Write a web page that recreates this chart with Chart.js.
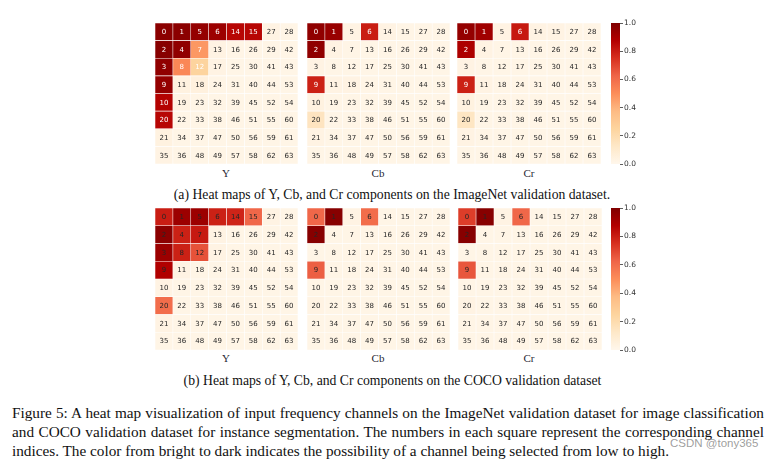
<!DOCTYPE html>
<html>
<head>
<meta charset="utf-8">
<script src="https://cdn.jsdelivr.net/npm/chart.js@4.4.1/dist/chart.umd.min.js"></script>
<style>
  html, body { margin: 0; padding: 0; background: #fff; }
  body { width: 776px; height: 461px; position: relative; overflow: hidden; }
  canvas { position: absolute; }
  .lbl { position: absolute; font-family: "Liberation Serif", serif; font-size: 11px; color: #1f1f33; transform: translate(-50%, -50%); white-space: nowrap; }
  .cap { position: absolute; font-family: "Liberation Serif", serif; font-size: 13.7px; color: #111; transform: translate(-50%, -50%); white-space: nowrap; }
  .line { position: absolute; left: 12px; width: 752px; font-family: "Liberation Serif", serif; font-size: 15.25px; color: #111; white-space: nowrap; line-height: 18px; }
  .just { text-align: justify; text-align-last: justify; white-space: normal; }
  .wm { position: absolute; font-family: "Liberation Sans", sans-serif; font-size: 11.5px; color: rgba(140,140,140,0.85); white-space: nowrap; }
</style>
</head>
<body>
<canvas id="inY" width="143" height="141" style="left:155px;top:23px"></canvas>
<canvas id="inCb" width="143" height="141" style="left:307px;top:23px"></canvas>
<canvas id="inCr" width="144" height="141" style="left:457px;top:23px"></canvas>
<canvas id="cbA" width="40" height="153" style="left:611px;top:17px"></canvas>
<canvas id="coY" width="143" height="142" style="left:155px;top:208px"></canvas>
<canvas id="coCb" width="143" height="142" style="left:307px;top:208px"></canvas>
<canvas id="coCr" width="144" height="142" style="left:458px;top:208px"></canvas>
<canvas id="cbB" width="40" height="154" style="left:611px;top:202px"></canvas>

<div class="lbl" style="left:226px;top:173px">Y</div>
<div class="lbl" style="left:378px;top:173px">Cb</div>
<div class="lbl" style="left:529px;top:173px">Cr</div>
<div class="cap" style="left:392px;top:195px">(a) Heat maps of Y, Cb, and Cr components on the ImageNet validation dataset.</div>
<div class="lbl" style="left:226px;top:358px">Y</div>
<div class="lbl" style="left:378px;top:358px">Cb</div>
<div class="lbl" style="left:529px;top:358px">Cr</div>
<div class="cap" style="left:392.5px;top:381px">(b) Heat maps of Y, Cb, and Cr components on the COCO validation dataset</div>

<div class="line just" style="top:404px">Figure 5: A heat map visualization of input frequency channels on the ImageNet validation dataset for image classification</div>
<div class="line just" style="top:423px">and COCO validation dataset for instance segmentation. The numbers in each square represent the corresponding channel</div>
<div class="line" style="top:442px">indices. The color from bright to dark indicates the possibility of a channel being selected from low to high.</div>
<div class="wm" style="left:670px;top:437px">CSDN @tony365</div>

<script>
// ---------------- data ----------------
const channelIdx = [
  [0, 1, 5, 6, 14, 15, 27, 28],
  [2, 4, 7, 13, 16, 26, 29, 42],
  [3, 8, 12, 17, 25, 30, 41, 43],
  [9, 11, 18, 24, 31, 40, 44, 53],
  [10, 19, 23, 32, 39, 45, 52, 54],
  [20, 22, 33, 38, 46, 51, 55, 60],
  [21, 34, 37, 47, 50, 56, 59, 61],
  [35, 36, 48, 49, 57, 58, 62, 63]
];

const imagenetY = [
  [0.97, 0.97, 0.95, 0.93, 0.86, 0.86, 0.03, 0.02],
  [0.98, 0.96, 0.47, 0.03, 0.02, 0.02, 0.02, 0.02],
  [0.96, 0.52, 0.25, 0.03, 0.02, 0.02, 0.02, 0.02],
  [0.95, 0.04, 0.05, 0.02, 0.02, 0.02, 0.02, 0.02],
  [0.87, 0.03, 0.02, 0.02, 0.02, 0.02, 0.02, 0.02],
  [0.86, 0.02, 0.02, 0.02, 0.02, 0.02, 0.02, 0.02],
  [0.04, 0.02, 0.02, 0.02, 0.02, 0.02, 0.02, 0.02],
  [0.03, 0.02, 0.02, 0.02, 0.02, 0.02, 0.02, 0.02]
];
const imagenetCb = [
  [0.96, 0.94, 0.03, 0.80, 0.03, 0.02, 0.02, 0.02],
  [0.96, 0.03, 0.02, 0.02, 0.02, 0.02, 0.02, 0.02],
  [0.03, 0.02, 0.02, 0.02, 0.02, 0.02, 0.02, 0.02],
  [0.79, 0.03, 0.03, 0.02, 0.02, 0.02, 0.02, 0.02],
  [0.04, 0.02, 0.02, 0.02, 0.02, 0.02, 0.02, 0.02],
  [0.15, 0.02, 0.02, 0.02, 0.02, 0.02, 0.02, 0.02],
  [0.03, 0.02, 0.02, 0.02, 0.02, 0.02, 0.02, 0.02],
  [0.02, 0.02, 0.02, 0.02, 0.02, 0.02, 0.02, 0.02]
];
const imagenetCr = [
  [0.95, 0.92, 0.03, 0.81, 0.03, 0.03, 0.02, 0.02],
  [0.89, 0.03, 0.02, 0.02, 0.02, 0.02, 0.02, 0.02],
  [0.03, 0.02, 0.02, 0.02, 0.02, 0.02, 0.02, 0.02],
  [0.79, 0.03, 0.02, 0.02, 0.02, 0.02, 0.02, 0.02],
  [0.04, 0.02, 0.02, 0.02, 0.02, 0.02, 0.02, 0.02],
  [0.14, 0.02, 0.02, 0.02, 0.02, 0.02, 0.02, 0.02],
  [0.03, 0.02, 0.02, 0.02, 0.02, 0.02, 0.02, 0.02],
  [0.02, 0.02, 0.02, 0.02, 0.02, 0.02, 0.02, 0.02]
];
const cocoY = [
  [0.80, 0.93, 0.93, 0.79, 0.78, 0.62, 0.03, 0.02],
  [0.97, 0.79, 0.81, 0.03, 0.02, 0.02, 0.02, 0.02],
  [0.93, 0.79, 0.67, 0.03, 0.02, 0.02, 0.02, 0.02],
  [0.88, 0.03, 0.02, 0.02, 0.02, 0.02, 0.02, 0.02],
  [0.03, 0.02, 0.02, 0.02, 0.02, 0.02, 0.02, 0.02],
  [0.60, 0.02, 0.02, 0.02, 0.02, 0.02, 0.02, 0.02],
  [0.03, 0.02, 0.02, 0.02, 0.02, 0.02, 0.02, 0.02],
  [0.02, 0.02, 0.02, 0.02, 0.02, 0.02, 0.02, 0.02]
];
const cocoCb = [
  [0.62, 0.98, 0.03, 0.60, 0.02, 0.02, 0.02, 0.02],
  [0.98, 0.02, 0.02, 0.02, 0.02, 0.02, 0.02, 0.02],
  [0.02, 0.02, 0.02, 0.02, 0.02, 0.02, 0.02, 0.02],
  [0.64, 0.02, 0.02, 0.02, 0.02, 0.02, 0.02, 0.02],
  [0.02, 0.02, 0.02, 0.02, 0.02, 0.02, 0.02, 0.02],
  [0.03, 0.02, 0.02, 0.02, 0.02, 0.02, 0.02, 0.02],
  [0.02, 0.02, 0.02, 0.02, 0.02, 0.02, 0.02, 0.02],
  [0.02, 0.02, 0.02, 0.02, 0.02, 0.02, 0.02, 0.02]
];
const cocoCr = [
  [0.72, 0.98, 0.03, 0.62, 0.02, 0.02, 0.02, 0.02],
  [0.98, 0.02, 0.02, 0.02, 0.02, 0.02, 0.02, 0.02],
  [0.02, 0.02, 0.02, 0.02, 0.02, 0.02, 0.02, 0.02],
  [0.66, 0.02, 0.02, 0.02, 0.02, 0.02, 0.02, 0.02],
  [0.02, 0.02, 0.02, 0.02, 0.02, 0.02, 0.02, 0.02],
  [0.03, 0.02, 0.02, 0.02, 0.02, 0.02, 0.02, 0.02],
  [0.02, 0.02, 0.02, 0.02, 0.02, 0.02, 0.02, 0.02],
  [0.02, 0.02, 0.02, 0.02, 0.02, 0.02, 0.02, 0.02]
];

const colorbarTicks = [0.0, 0.2, 0.4, 0.6, 0.8, 1.0];

// ---------------- colour map (OrRd) ----------------
const ORRD = ['#fff7ec', '#fee8c8', '#fdd49e', '#fdbb84', '#fc8d59', '#ef6548', '#d7301f', '#b30000', '#7f0000'];
function hex2rgb(h) { return [parseInt(h.slice(1, 3), 16), parseInt(h.slice(3, 5), 16), parseInt(h.slice(5, 7), 16)]; }
const ORRD_RGB = ORRD.map(hex2rgb);
function cmap(v) {
  v = Math.max(0, Math.min(1, v));
  const p = v * (ORRD_RGB.length - 1);
  const i = Math.min(Math.floor(p), ORRD_RGB.length - 2);
  const t = p - i;
  const a = ORRD_RGB[i], b = ORRD_RGB[i + 1];
  const c = a.map((x, k) => Math.round(x + (b[k] - x) * t));
  return `rgb(${c[0]},${c[1]},${c[2]})`;
}

Chart.defaults.animation = false;
Chart.defaults.font.family = '"DejaVu Sans", sans-serif';

// ---------------- heat map ----------------
const cellLabelPlugin = {
  id: 'cellLabels',
  afterDatasetsDraw(chart, args, opts) {
    const ctx = chart.ctx;
    ctx.save();
    ctx.font = '7px "DejaVu Sans", sans-serif';
    ctx.textAlign = 'center';
    ctx.textBaseline = 'middle';
    chart.data.datasets.forEach((ds, c) => {
      const meta = chart.getDatasetMeta(c);
      meta.data.forEach((el, r) => {
        const v = opts.values[r][c];
        const x = (el.x + el.base) / 2;
        const y = el.y;
        ctx.fillStyle = (opts.mode === 'auto' && v > 0.18) ? '#ffffff' : '#262626';
        ctx.fillText(String(opts.labels[r][c]), x, y + 0.5);
      });
    });
    ctx.restore();
  }
};

function heatmap(id, values, mode) {
  const rows = channelIdx.map((_, r) => 'row' + r);
  const datasets = channelIdx[0].map((_, c) => ({
    data: rows.map(() => 1),
    backgroundColor: values.map(row => cmap(row[c])),
    borderColor: 'rgba(255,255,255,0.55)',
    borderWidth: 0.6,
    borderSkipped: false,
    categoryPercentage: 1,
    barPercentage: 1
  }));
  new Chart(document.getElementById(id), {
    type: 'bar',
    data: { labels: rows, datasets },
    options: {
      indexAxis: 'y',
      responsive: false,
      devicePixelRatio: 1,
      layout: { padding: 0 },
      scales: {
        x: { type: 'linear', stacked: true, min: 0, max: channelIdx[0].length, display: false },
        y: { type: 'category', stacked: true, display: false }
      },
      plugins: {
        legend: { display: false },
        tooltip: { enabled: false },
        cellLabels: { values, labels: channelIdx, mode }
      }
    },
    plugins: [cellLabelPlugin]
  });
}

// ---------------- colour bar ----------------
function colorbar(id) {
  new Chart(document.getElementById(id), {
    type: 'bar',
    data: {
      labels: ['cbar'],
      datasets: [{
        data: [1],
        categoryPercentage: 1,
        barPercentage: 1,
        borderWidth: 0,
        backgroundColor: (ctx) => {
          const area = ctx.chart.chartArea;
          if (!area) return ORRD[4];
          const g = ctx.chart.ctx.createLinearGradient(0, area.bottom, 0, area.top);
          ORRD.forEach((c, i) => g.addColorStop(i / (ORRD.length - 1), c));
          return g;
        }
      }]
    },
    options: {
      responsive: false,
      devicePixelRatio: 1,
      layout: { padding: { top: 6, bottom: 6, left: 0, right: 0 } },
      scales: {
        x: { display: false },
        y: {
          position: 'right',
          min: 0, max: 1,
          afterBuildTicks: (s) => { s.ticks = colorbarTicks.map(v => ({ value: v })); },
          afterFit: (s) => { s.width = 31; s.paddingTop = 0; s.paddingBottom = 0; },
          ticks: {
            callback: (v) => Number(v).toFixed(1),
            font: { size: 7.5, family: '"DejaVu Sans", sans-serif' },
            color: '#333',
            padding: 1
          },
          grid: { display: true, drawOnChartArea: false, drawTicks: true, tickLength: 3, color: '#333', lineWidth: 0.8 },
          border: { display: false }
        }
      },
      plugins: { legend: { display: false }, tooltip: { enabled: false } }
    }
  });
}

heatmap('inY', imagenetY, 'auto');
heatmap('inCb', imagenetCb, 'auto');
heatmap('inCr', imagenetCr, 'auto');
heatmap('coY', cocoY, 'dark');
heatmap('coCb', cocoCb, 'dark');
heatmap('coCr', cocoCr, 'dark');
colorbar('cbA');
colorbar('cbB');
</script>
</body>
</html>
